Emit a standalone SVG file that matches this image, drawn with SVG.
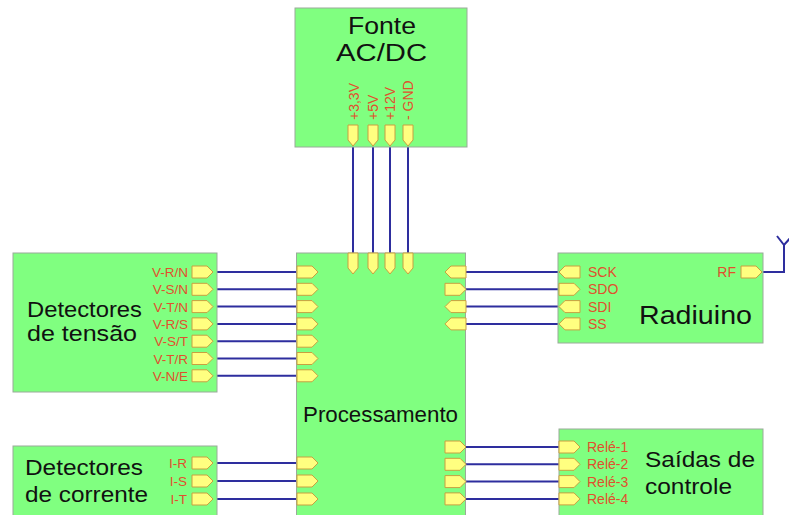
<svg xmlns="http://www.w3.org/2000/svg" xmlns:xlink="http://www.w3.org/1999/xlink" width="789" height="515" viewBox="0 0 789 515">
<style>
.box{fill:#80FF80;stroke:#9AAA9A;stroke-width:1}
.pin{fill:#FFFF80;stroke:#C8A040;stroke-width:1}
.wire{fill:none;stroke:#2E2E9E;stroke-width:2}
.title{font-family:"Liberation Sans",Arial,sans-serif;fill:#111;font-size:22px}
.lbl{font-family:"Liberation Sans",Arial,sans-serif;fill:#E0502E;font-size:14px}
.lbls{font-family:"Liberation Sans",Arial,sans-serif;fill:#E0502E;font-size:13.5px}
</style>
<defs>
<path id="pinR" class="pin" d="M0,-6 H15 L21,0 L15,6 H0 Z"/>
<path id="pinL" class="pin" d="M0,0 L6,-6 H21 V6 H6 Z"/>
<path id="pinD" class="pin" d="M-5,0 H5 V15 L0,21 L-5,15 Z"/>
</defs>
<rect width="789" height="515" fill="#FFFFFF"/>

<g id="connectors">
<path class="wire" d="M353,147 V253 M373,147 V253 M390,147 V253 M408,147 V253"/>
<path class="wire" d="M213,272 H297 M213,289.3 H297 M213,306.6 H297 M213,323.9 H297 M213,341.2 H297 M213,358.5 H297 M213,375.8 H297"/>
<path class="wire" d="M213,463 H297 M213,481 H297 M213,499 H297"/>
<path class="wire" d="M466,272 H560 M466,289.3 H560 M466,306.6 H560 M466,323.9 H560"/>
<path class="wire" d="M466,447 H559 M466,464.3 H559 M466,481.6 H559 M466,498.9 H559"/>
<path class="wire" d="M762,272 H784 V245 M777,236 L784,245 L792,236"/>
</g>

<g id="fonte">
<rect class="box" x="295" y="8" width="172" height="139"/>
<text class="title" x="348" y="34" style="font-size:23px" textLength="68" lengthAdjust="spacingAndGlyphs">Fonte</text>
<text class="title" x="336" y="61" style="font-size:23px" textLength="91" lengthAdjust="spacingAndGlyphs">AC/DC</text>
<text class="lbl" transform="translate(359,120) rotate(-90)">+3,3V</text>
<text class="lbl" transform="translate(378,120) rotate(-90)">+5V</text>
<text class="lbl" transform="translate(395,120) rotate(-90)">+12V</text>
<text class="lbl" transform="translate(413,120) rotate(-90)">- GND</text>
<use xlink:href="#pinD" x="353" y="125"/>
<use xlink:href="#pinD" x="373" y="125"/>
<use xlink:href="#pinD" x="390" y="125"/>
<use xlink:href="#pinD" x="408" y="125"/>
</g>

<g id="processamento">
<rect class="box" x="296.5" y="253" width="169" height="270"/>
<text class="title" x="303" y="422" textLength="155" lengthAdjust="spacingAndGlyphs">Processamento</text>
<use xlink:href="#pinD" x="353" y="253"/>
<use xlink:href="#pinD" x="373" y="253"/>
<use xlink:href="#pinD" x="390" y="253"/>
<use xlink:href="#pinD" x="408" y="253"/>
<use xlink:href="#pinR" x="297" y="272"/>
<use xlink:href="#pinR" x="297" y="289.3"/>
<use xlink:href="#pinR" x="297" y="306.6"/>
<use xlink:href="#pinR" x="297" y="323.9"/>
<use xlink:href="#pinR" x="297" y="341.2"/>
<use xlink:href="#pinR" x="297" y="358.5"/>
<use xlink:href="#pinR" x="297" y="375.8"/>
<use xlink:href="#pinR" x="297" y="463"/>
<use xlink:href="#pinR" x="297" y="481"/>
<use xlink:href="#pinR" x="297" y="499"/>
<use xlink:href="#pinL" x="445" y="272"/>
<use xlink:href="#pinR" x="445" y="289.3"/>
<use xlink:href="#pinL" x="445" y="306.6"/>
<use xlink:href="#pinL" x="445" y="323.9"/>
<use xlink:href="#pinR" x="445" y="447"/>
<use xlink:href="#pinR" x="445" y="464.3"/>
<use xlink:href="#pinR" x="445" y="481.6"/>
<use xlink:href="#pinR" x="445" y="498.9"/>
</g>

<g id="detectores-tensao">
<rect class="box" x="13" y="253" width="204" height="139"/>
<text class="title" x="27" y="317" textLength="115" lengthAdjust="spacingAndGlyphs">Detectores</text>
<text class="title" x="27" y="341" textLength="110" lengthAdjust="spacingAndGlyphs">de tensão</text>
<g class="lbls" text-anchor="end">
<text x="188" y="277">V-R/N</text>
<text x="188" y="294.3">V-S/N</text>
<text x="188" y="311.6">V-T/N</text>
<text x="188" y="328.9">V-R/S</text>
<text x="188" y="346.2">V-S/T</text>
<text x="188" y="363.5">V-T/R</text>
<text x="188" y="380.8">V-N/E</text>
</g>
<use xlink:href="#pinR" x="192" y="272"/>
<use xlink:href="#pinR" x="192" y="289.3"/>
<use xlink:href="#pinR" x="192" y="306.6"/>
<use xlink:href="#pinR" x="192" y="323.9"/>
<use xlink:href="#pinR" x="192" y="341.2"/>
<use xlink:href="#pinR" x="192" y="358.5"/>
<use xlink:href="#pinR" x="192" y="375.8"/>
</g>

<g id="detectores-corrente">
<rect class="box" x="13" y="446" width="204" height="80"/>
<text class="title" x="25" y="475" textLength="118" lengthAdjust="spacingAndGlyphs">Detectores</text>
<text class="title" x="25" y="502" textLength="123" lengthAdjust="spacingAndGlyphs">de corrente</text>
<g class="lbls" text-anchor="end">
<text x="187" y="468">I-R</text>
<text x="187" y="486">I-S</text>
<text x="187" y="504">I-T</text>
</g>
<use xlink:href="#pinR" x="192" y="463"/>
<use xlink:href="#pinR" x="192" y="481"/>
<use xlink:href="#pinR" x="192" y="499"/>
</g>

<g id="radiuino">
<rect class="box" x="558" y="253" width="205" height="90"/>
<text class="title" x="639" y="324" style="font-size:26px" textLength="113" lengthAdjust="spacingAndGlyphs">Radiuino</text>
<g class="lbl">
<text x="588" y="277">SCK</text>
<text x="588" y="294.3">SDO</text>
<text x="588" y="311.6">SDI</text>
<text x="588" y="328.9">SS</text>
<text x="736" y="277" text-anchor="end">RF</text>
</g>
<use xlink:href="#pinL" x="559" y="272"/>
<use xlink:href="#pinR" x="559" y="289.3"/>
<use xlink:href="#pinL" x="559" y="306.6"/>
<use xlink:href="#pinL" x="559" y="323.9"/>
<use xlink:href="#pinR" x="741" y="272"/>
</g>

<g id="saidas">
<rect class="box" x="559" y="429" width="204" height="100"/>
<text class="title" x="645" y="467" textLength="110" lengthAdjust="spacingAndGlyphs">Saídas de</text>
<text class="title" x="645" y="494" textLength="87" lengthAdjust="spacingAndGlyphs">controle</text>
<g class="lbl">
<text x="587" y="452">Relé-1</text>
<text x="587" y="469.3">Relé-2</text>
<text x="587" y="486.6">Relé-3</text>
<text x="587" y="503.9">Relé-4</text>
</g>
<use xlink:href="#pinR" x="559" y="447"/>
<use xlink:href="#pinR" x="559" y="464.3"/>
<use xlink:href="#pinR" x="559" y="481.6"/>
<use xlink:href="#pinR" x="559" y="498.9"/>
</g>
</svg>
